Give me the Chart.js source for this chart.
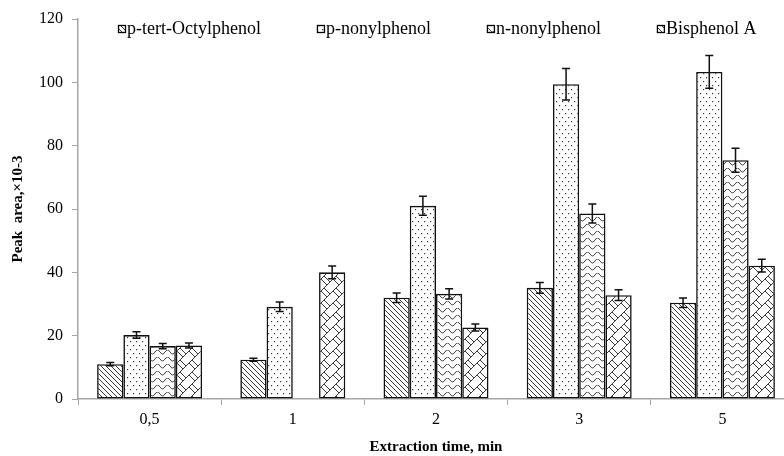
<!DOCTYPE html>
<html>
<head>
<meta charset="utf-8">
<script src="https://cdn.jsdelivr.net/npm/chart.js@4/dist/chart.umd.min.js"></script>
<style>
  html, body { margin: 0; padding: 0; background: #fff; overflow: hidden; }
  #wrap { width: 800px; height: 456px; }
</style>
</head>
<body>
<div id="wrap"><canvas id="grafico" width="800" height="456"></canvas></div>
<script>
const categorias = ['0,5', '1', '2', '3', '5'];
const nomes = ['p-tert-Octylphenol', 'p-nonylphenol', 'n-nonylphenol', 'Bisphenol A'];

const pTertOctyl = [11.0, 12.4, 32.0, 35.1, 30.4];
const pNonyl = [20.2, 29.1, 61.0, 99.4, 103.3];
const nNonyl = [16.7, null, 33.2, 58.6, 75.4];
const bisfenolA = [16.9, 40.0, 22.6, 32.8, 42.1];

const errPTert = [0.5, 0.5, 1.5, 1.7, 1.5];
const errPNonyl = [1.0, 1.5, 3.0, 5.0, 5.2];
const errNNonyl = [0.8, null, 1.6, 3.0, 3.8];
const errBisfenol = [0.8, 2.0, 1.1, 1.7, 2.0];

const yTicks = [0, 20, 40, 60, 80, 100, 120];

const serif = "'Liberation Serif', 'Times New Roman', serif";

// padroes de hachura
function novoTile(w, h) {
    const c = document.createElement('canvas');
    c.width = w; c.height = h;
    const g = c.getContext('2d');
    g.fillStyle = '#fff';
    g.fillRect(0, 0, w, h);
    g.strokeStyle = '#222';
    g.fillStyle = '#222';
    g.lineWidth = 0.9;
    return { c, g };
}

function padraoDiagonal() {
    const { c, g } = novoTile(5, 5);
    g.beginPath();
    for (let k = -5; k <= 5; k += 5) {
        g.moveTo(k - 1, -1);
        g.lineTo(k + 6, 6);
    }
    g.stroke();
    return g.createPattern(c, 'repeat');
}

function padraoPontos() {
    const { c, g } = novoTile(6, 8);
    g.fillStyle = '#333';
    g.fillRect(1, 1, 1.2, 1.2);
    g.fillRect(4, 5, 1.2, 1.2);
    return g.createPattern(c, 'repeat');
}

function padraoOndas() {
    const { c, g } = novoTile(10, 7);
    g.beginPath();
    g.moveTo(0, 2);
    g.quadraticCurveTo(2.5, 6, 5, 2);
    g.quadraticCurveTo(7.5, -2, 10, 2);
    g.stroke();
    return g.createPattern(c, 'repeat');
}

function padraoTijolo() {
    const s = 12;
    const { c, g } = novoTile(s, s);
    g.beginPath();
    for (const dx of [-s, 0, s]) {
        for (const dy of [-s, 0, s]) {
            g.moveTo(dx, dy + s);
            g.lineTo(dx + s, dy);
            g.moveTo(dx, dy);
            g.lineTo(dx + 6, dy + 6);
            g.moveTo(dx + 9, dy + 3);
            g.lineTo(dx + 15, dy + 9);
        }
    }
    g.stroke();
    return g.createPattern(c, 'repeat');
}

const padroes = [padraoDiagonal(), padraoPontos(), padraoOndas(), padraoTijolo()];
const series = [pTertOctyl, pNonyl, nNonyl, bisfenolA];
const erros = [errPTert, errPNonyl, errNNonyl, errBisfenol];

const barrasErro = {
    id: 'barrasErro',
    afterDatasetsDraw(chart) {
        const ctx = chart.ctx;
        const y = chart.scales.y;
        ctx.save();
        ctx.strokeStyle = '#111';
        ctx.lineWidth = 1.5;
        chart.data.datasets.forEach((ds, i) => {
            const meta = chart.getDatasetMeta(i);
            meta.data.forEach((bar, j) => {
                const v = ds.data[j];
                const e = erros[i][j];
                if (v == null || e == null) return;
                const yt = y.getPixelForValue(v + e);
                const yb = y.getPixelForValue(v - e);
                ctx.beginPath();
                ctx.moveTo(bar.x, yt);
                ctx.lineTo(bar.x, yb);
                ctx.moveTo(bar.x - 4, yt);
                ctx.lineTo(bar.x + 4, yt);
                ctx.moveTo(bar.x - 4, yb);
                ctx.lineTo(bar.x + 4, yb);
                ctx.stroke();
            });
        });
        ctx.restore();
    }
};

const legenda = {
    id: 'legenda',
    afterDraw(chart) {
        const ctx = chart.ctx;
        ctx.save();
        ctx.font = '18px ' + serif;
        ctx.textBaseline = 'middle';
        let x = chart.chartArea.left + 40;
        const yc = 29;
        chart.data.datasets.forEach((ds) => {
            ctx.fillStyle = ds.backgroundColor;
            ctx.fillRect(x, yc - 4, 8, 8);
            ctx.strokeStyle = '#000';
            ctx.lineWidth = 1.3;
            ctx.strokeRect(x + 0.5, yc - 3.5, 7, 7);
            ctx.fillStyle = '#000';
            ctx.fillText(ds.label, x + 9, yc);
            x += 9 + ctx.measureText(ds.label).width + 56;
        });
        ctx.restore();
    }
};

new Chart(document.getElementById('grafico').getContext('2d'), {
    type: 'bar',
    data: {
        labels: categorias,
        datasets: series.map((d, i) => ({
            label: nomes[i],
            data: d,
            backgroundColor: padroes[i],
            borderColor: '#111',
            borderWidth: 1.6,
            borderSkipped: false,
            categoryPercentage: 0.733,
            barPercentage: 1
        }))
    },
    options: {
        responsive: false,
        animation: false,
        layout: { padding: { top: 19, right: 6, left: 0, bottom: 0 } },
        plugins: {
            legend: { display: false },
            tooltip: { enabled: false }
        },
        scales: {
            x: {
                grid: { offset: true, drawOnChartArea: false, drawTicks: true, tickLength: 6, color: '#a6a6a6' },
                border: { color: '#a6a6a6', width: 1.5 },
                ticks: { color: '#000', font: { family: serif, size: 16 }, padding: 5, maxRotation: 0 },
                title: { display: true, text: 'Extraction time, min', color: '#000', font: { family: serif, size: 15, weight: 'bold' }, padding: { top: 0, bottom: 0 } },
                afterFit(s) { s.height = 57; }
            },
            y: {
                min: 0,
                max: 120,
                afterBuildTicks(s) { s.ticks = yTicks.map(v => ({ value: v })); },
                grid: { drawOnChartArea: false, drawTicks: true, tickLength: 6, color: '#a6a6a6' },
                border: { color: '#a6a6a6', width: 1.5 },
                ticks: { color: '#000', font: { family: serif, size: 16 }, padding: 9 },
                title: { display: true, text: 'Peak  area,×10-3', color: '#000', font: { family: serif, size: 15, weight: 'bold' }, padding: { top: 9, bottom: 0 } },
                afterFit(s) { s.width = 78; }
            }
        }
    },
    plugins: [barrasErro, legenda]
});
</script>
</body>
</html>
